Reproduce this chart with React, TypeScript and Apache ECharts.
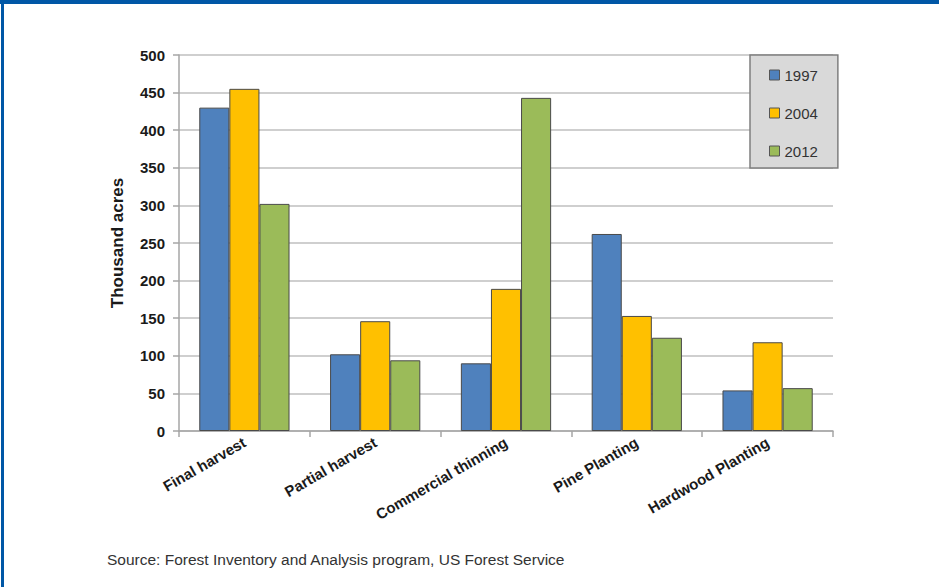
import React, { useEffect, useRef } from "react";
import * as echarts from "echarts";

const categories = ["Final harvest", "Partial harvest", "Commercial thinning", "Pine Planting", "Hardwood Planting"];
const years = ["1997", "2004", "2012"];
const values1997 = [430, 102, 90, 262, 54];
const values2004 = [455, 146, 189, 153, 118];
const values2012 = [302, 94, 443, 124, 57];
const yTicks = { min: 0, max: 500, interval: 50 };
const sourceText = "Source: Forest Inventory and Analysis program, US Forest Service";

const colors = ["#4f81bd", "#ffc000", "#9bbb59"];
const FONT = "'Liberation Sans', Arial, sans-serif";

export default function App() {
  const ref = useRef<HTMLDivElement>(null);
  useEffect(() => {
    if (!ref.current) return;
    const chart = echarts.init(ref.current, null, { renderer: "svg" });
    const seriesData = [values1997, values2004, values2012];
    chart.setOption({
      animation: false,
      backgroundColor: "#ffffff",
      textStyle: { fontFamily: FONT },
      grid: { left: 179, right: 106, top: 55, bottom: 156, containLabel: false },
      legend: {
        orient: "vertical",
        left: 750,
        top: 55,
        padding: [12, 20, 9, 19],
        itemWidth: 10,
        itemHeight: 10,
        itemGap: 22,
        itemStyle: { borderColor: "#555", borderWidth: 1 },
        backgroundColor: "#d9d9d9",
        borderColor: "#7f7f7f",
        borderWidth: 1.5,
        textStyle: { fontSize: 15, color: "#333", fontFamily: FONT, lineHeight: 16 },
        data: years.map((y) => ({ name: y, icon: "rect" })),
      },
      xAxis: {
        type: "category",
        data: categories,
        axisLine: { lineStyle: { color: "#a6a6a6", width: 1.5 } },
        axisTick: { show: true, length: 6, alignWithLabel: false, lineStyle: { color: "#a6a6a6", width: 1.5 } },
        axisLabel: {
          rotate: 30,
          margin: 10,
          interval: 0,
          fontSize: 15,
          fontWeight: "bold",
          color: "#1a1a1a",
          fontFamily: FONT,
        },
      },
      yAxis: {
        type: "value",
        min: yTicks.min,
        max: yTicks.max,
        interval: yTicks.interval,
        name: "Thousand acres",
        nameLocation: "middle",
        nameGap: 53,
        nameTextStyle: { fontSize: 17, fontWeight: "bold", color: "#1a1a1a", fontFamily: FONT },
        axisLine: { show: true, lineStyle: { color: "#a6a6a6", width: 1.5 } },
        axisTick: { show: true, length: 6, lineStyle: { color: "#a6a6a6", width: 1.5 } },
        axisLabel: { fontSize: 15, fontWeight: "bold", color: "#1a1a1a", margin: 14, fontFamily: FONT },
        splitLine: { show: true, lineStyle: { color: "#cfcfcf", width: 2 } },
      },
      series: years.map((y, i) => ({
        name: y,
        type: "bar",
        data: seriesData[i],
        barGap: "0%",
        barCategoryGap: "31%",
        itemStyle: { color: colors[i], borderColor: "#4a4a4a", borderWidth: 1 },
      })),
      graphic: [
        { type: "rect", left: 0, top: 0, shape: { x: 0, y: 0, width: 939, height: 4 }, style: { fill: "#0057a6" }, z: 100 },
        { type: "rect", left: 1, top: 0, shape: { x: 0, y: 0, width: 3, height: 587 }, style: { fill: "#0057a6" }, z: 100 },
        {
          type: "text",
          left: 107,
          top: 551,
          style: { text: sourceText, fontSize: 15.5, fill: "#333", fontFamily: FONT },
        },
      ],
    });
    return () => chart.dispose();
  }, []);
  return <div ref={ref} style={{ position: "absolute", left: 0, top: 0, width: 939, height: 587 }} />;
}
